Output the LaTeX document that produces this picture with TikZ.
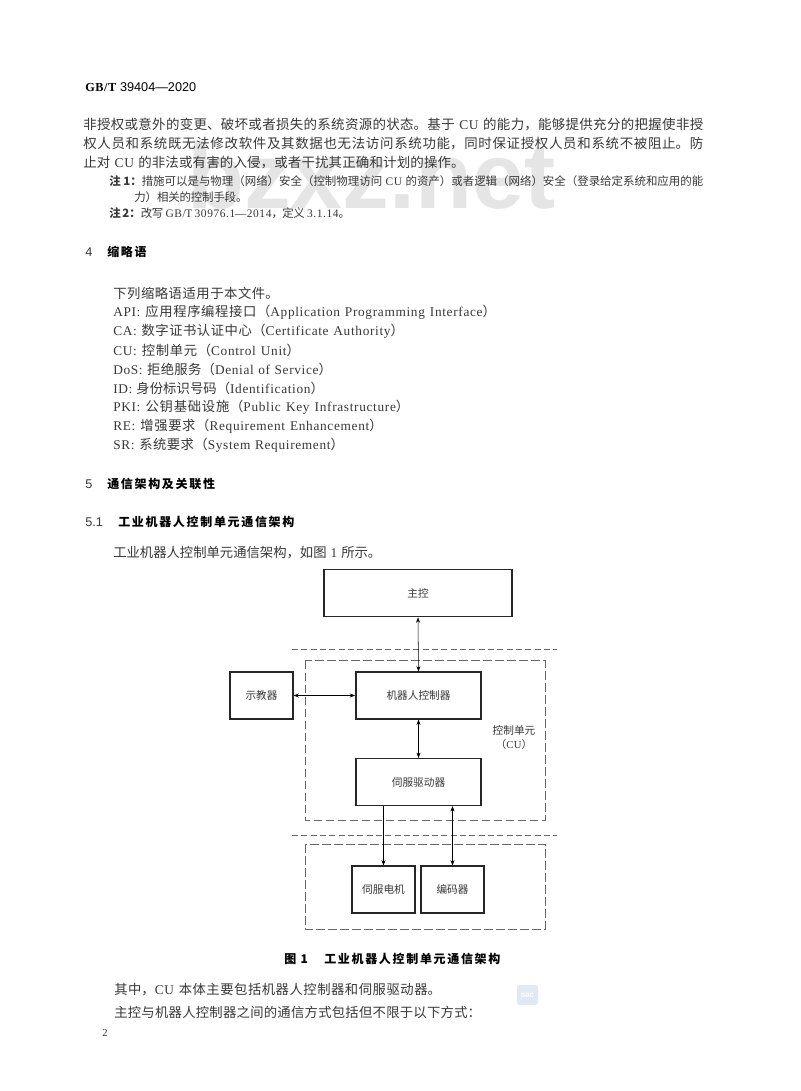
\documentclass[tikz,border=0pt]{standalone}
\usepackage{fontspec}
\setmainfont[LetterSpace=5]{Liberation Serif}
\setsansfont{Liberation Sans}
\newfontfamily\cjkfont{Noto Sans CJK SC}
\newfontfamily\headfont[LetterSpace=14]{Noto Sans CJK SC}
\XeTeXlinebreaklocale "zh"
\XeTeXlinebreakskip=0pt plus 1pt minus .4pt
\newcommand{\zh}[1]{{\cjkfont #1}}
\newcommand{\fitline}[2]{\parbox{#1}{\parindent=0pt\parfillskip=0pt\tolerance=10000\hbadness=10000 #2}}
\usetikzlibrary{arrows.meta}
\definecolor{inkgray}{gray}{.22}
\definecolor{boxgray}{gray}{.15}
\definecolor{dashgray}{gray}{.4}
\definecolor{markgray}{gray}{.9}
\definecolor{logoblue}{RGB}{224,232,243}
\tikzset{
	textline/.style={anchor=west,inner sep=0pt,text=inkgray},
	bodytext/.style={textline,font=\fontsize{10.1pt}{12pt}\selectfont},
	listtext/.style={textline,font=\fontsize{10pt}{12pt}\selectfont},
	notetext/.style={textline,font=\fontsize{8.6pt}{10pt}\selectfont},
	headnum/.style={textline,font=\fontsize{9.5pt}{11pt}\selectfont\sffamily},
	headtext/.style={textline,text=black,font=\fontsize{9pt}{11pt}\selectfont\headfont\bfseries},
	blockbox/.style={draw=boxgray,line width=1.1pt,inner sep=0pt,font=\fontsize{8pt}{9pt}\selectfont\cjkfont,text=inkgray},
	dashbox/.style={draw=dashgray,line width=.6pt,dash pattern=on 6.5pt off 2.5pt},
	dashrule/.style={draw=dashgray,line width=.6pt,dash pattern=on 4.5pt off 2.5pt},
	linkline/.style={draw=black,line width=.4pt,{Stealth[length=4pt,width=3pt]}-{Stealth[length=4pt,width=3pt]}},
	downline/.style={draw=black,line width=.4pt,-{Stealth[length=4pt,width=3pt]}},
}
\begin{document}
\begin{tikzpicture}[x=.75pt,y=-.75pt]
	\useasboundingbox (0,0) rectangle (800,1091);
	\fill[white] (0,0) rectangle (800,1091);
	% watermark
	\node[anchor=base west,inner sep=0pt,text=markgray,font=\fontsize{70pt}{72pt}\selectfont\sffamily\bfseries] (mark) at (187,209) {bzxz.net};
	\fill[logoblue,rounded corners=2pt] (517,985) rectangle (538,1005);
	\node[inner sep=0pt,text=white,font=\fontsize{6pt}{7pt}\selectfont\sffamily\bfseries] (logo) at (527.5,995) {sac};
	% page head
	\node[textline,text=black,font=\fontsize{9.2pt}{11pt}\selectfont\bfseries] (std) at (85,87) {GB/T\ {\sffamily\mdseries\fontsize{9.5pt}{11pt}\selectfont 39404—2020}};
	% body
	\node[bodytext] (l1) at (83,124.5) {\fitline{465pt}{\zh{非授权或意外的变更、破坏或者损失的系统资源的状态。基于} CU \zh{的能力，能够提供充分的把握使非授}}};
	\node[bodytext] (l2) at (83,143.5) {\fitline{465pt}{\zh{权人员和系统既无法修改软件及其数据也无法访问系统功能，同时保证授权人员和系统不被阻止。防}}};
	\node[bodytext] (l3) at (83,162.5) {\fitline{286pt}{\zh{止对} CU \zh{的非法或有害的入侵，或者干扰其正确和计划的操作。}}};
	\node[notetext] (n1) at (109,181) {\fitline{445.5pt}{\zh{\textbf{注 1：}措施可以是与物理（网络）安全（控制物理访问} CU \zh{的资产）或者逻辑（网络）安全（登录给定系统和应用的能}}};
	\node[notetext] (n2) at (134,197) {\fitline{85pt}{\zh{力）相关的控制手段。}}};
	\node[notetext] (n3) at (109,213) {\fitline{180pt}{\zh{\textbf{注 2：}改写} GB/T 30976.1—2014\zh{，定义} 3.1.14\zh{。}}};
	% headings
	\node[headnum] (h4) at (85,252) {4};
	\node[headtext] (h4t) at (107,252) {缩略语};
	\node[headnum] (h5) at (85,484) {5};
	\node[headtext] (h5t) at (107,484) {通信架构及关联性};
	\node[headnum] (h51) at (85,522) {5.1};
	\node[headtext] (h51t) at (118,522) {工业机器人控制单元通信架构};
	% abbreviations
	\foreach \rowname/\ypos/\rowwidth/\rowtext in {
		a0/293/124pt/{\zh{下列缩略语适用于本文件。}},
		a1/312/287pt/{API: \zh{应用程序编程接口（}Application Programming Interface\zh{）}},
		a2/331/218pt/{CA: \zh{数字证书认证中心（}Certificate Authority\zh{）}},
		a3/350/140pt/{CU: \zh{控制单元（}Control Unit\zh{）}},
		a4/369/164pt/{DoS: \zh{拒绝服务（}Denial of Service\zh{）}},
		a5/388/158pt/{ID: \zh{身份标识号码（}Identification\zh{）}},
		a6/407/222pt/{PKI: \zh{公钥基础设施（}Public Key Infrastructure\zh{）}},
		a7/426.5/202pt/{RE: \zh{增强要求（}Requirement Enhancement\zh{）}},
		a8/445.5/173pt/{SR: \zh{系统要求（}System Requirement\zh{）}},
		a9/553/201pt/{\zh{工业机器人控制单元通信架构，如图} 1 \zh{所示。}}}
		\node[listtext] (\rowname) at (113,\ypos) {\fitline{\rowwidth}{\rowtext}};
	% figure
	\draw[dashrule] (292,649) coordinate (r1a) -- (557,649) coordinate (r1b);
	\draw[dashrule] (292,835) coordinate (r2a) -- (557,835) coordinate (r2b);
	\draw[dashbox] (305,660.5) rectangle (545,820);
	\draw[dashbox] (305,844) rectangle (545,929);
	\node[blockbox,minimum width=141pt,minimum height=35.5pt] (master) at (418,593) {主控};
	\node[blockbox,minimum width=47pt,minimum height=35pt] (pendant) at (261.5,695.5) {示教器};
	\node[blockbox,minimum width=94pt,minimum height=35pt] (ctrl) at (418.5,695.5) {机器人控制器};
	\node[blockbox,minimum width=94pt,minimum height=35pt] (drive) at (418.5,782) {伺服驱动器};
	\node[blockbox,minimum width=47pt,minimum height=35pt] (motor) at (383.5,889.5) {伺服电机};
	\node[blockbox,minimum width=47pt,minimum height=35pt] (encoder) at (452.5,889.5) {编码器};
	\node[inner sep=0pt,align=center,text=inkgray,font=\fontsize{8pt}{10.5pt}\selectfont] (culabel) at (514,738) {\zh{控制单元}\\\zh{（}CU\zh{）}};
	\draw[linkline] (master.south) -- (ctrl.north);
	\draw[linkline] (pendant.east) -- (ctrl.west);
	\draw[linkline] (ctrl.south) -- (drive.north);
	\draw[downline] (drive.south -| motor.north) -- (motor.north);
	\draw[linkline] (drive.south -| encoder.north) -- (encoder.north);
	% below figure
	\node[headtext] (capnum) at (284,959) {图\ 1};
	\node[headtext] (cap) at (324,959) {工业机器人控制单元通信架构};
	\node[listtext] (b1) at (114,989.5) {\fitline{245pt}{\zh{其中，}CU \zh{本体主要包括机器人控制器和伺服驱动器。}}};
	\node[listtext] (b2) at (114,1012.5) {\fitline{275pt}{\zh{主控与机器人控制器之间的通信方式包括但不限于以下方式：}}};
	\node[textline,font=\fontsize{8pt}{10pt}\selectfont] (page) at (102,1033) {2};
\end{tikzpicture}
\end{document}
